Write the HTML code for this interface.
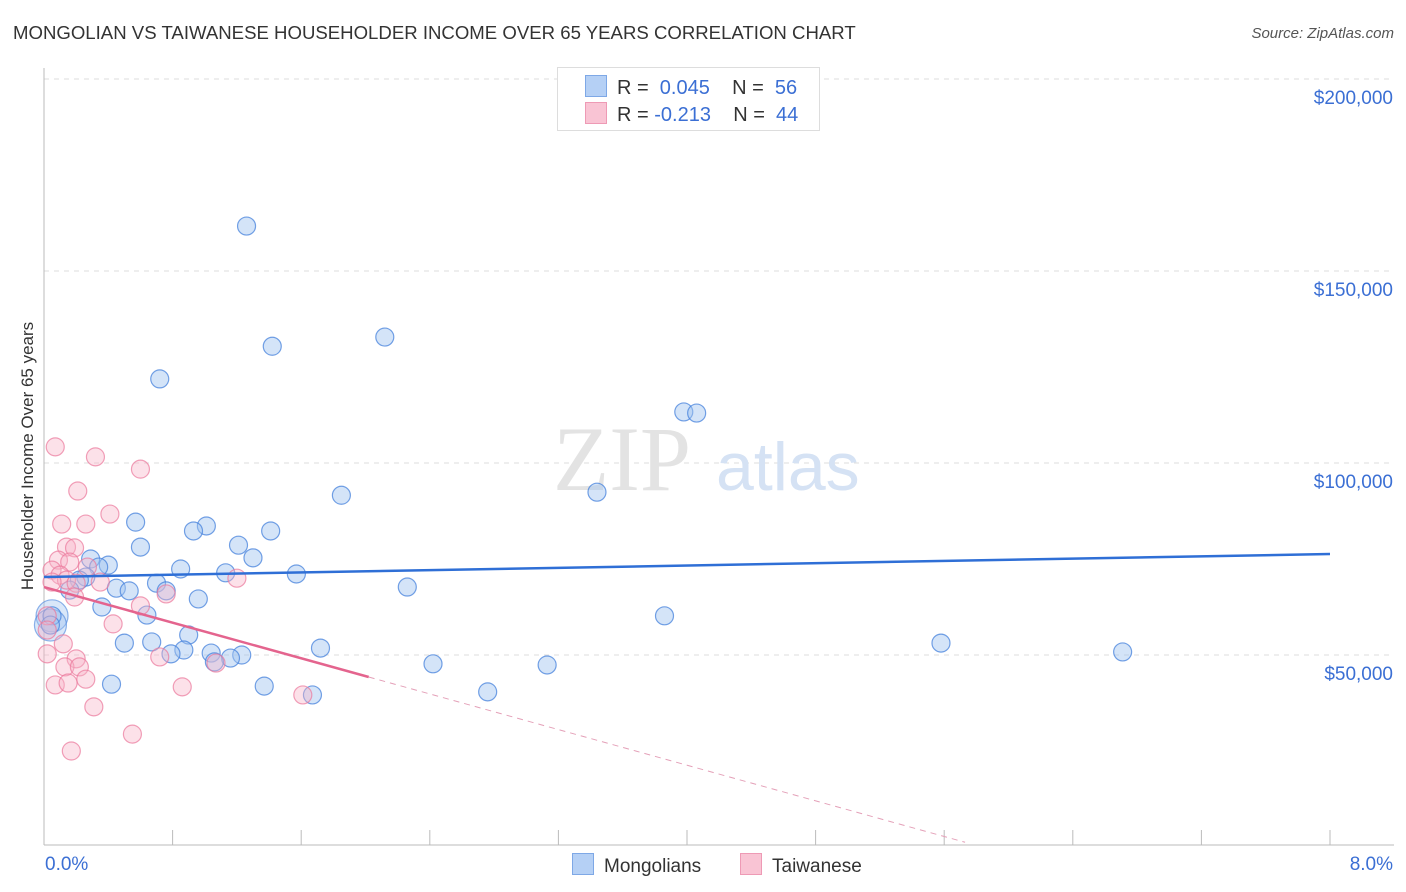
<!DOCTYPE html>
<html><head><meta charset="utf-8"><style>
body{margin:0;background:#fff;font-family:"Liberation Sans",sans-serif;}
#wrap{position:relative;width:1406px;height:892px;overflow:hidden;}
.t{position:absolute;white-space:nowrap;}
</style></head><body>
<div id="wrap">
<div class="t" style="left:13px;top:22px;font-size:18.6px;color:#333;">MONGOLIAN VS TAIWANESE HOUSEHOLDER INCOME OVER 65 YEARS CORRELATION CHART</div>
<div class="t" style="right:12px;top:25px;font-size:15px;color:#555;font-style:italic;">Source: ZipAtlas.com</div>
<div class="t" style="left:28px;top:456px;font-size:17px;color:#333;transform:translate(-50%,-50%) rotate(-90deg);">Householder Income Over 65 years</div>
<svg id="svg" width="1406" height="892" style="position:absolute;left:0;top:0"></svg>
</div>
<script>
const blueX=[1.26,1.42,2.12,0.72,3.98,4.06,1.85,3.44,0.57,1.01,0.93,1.41,0.60,1.21,1.30,0.29,0.40,0.34,0.85,1.13,1.57,0.26,0.22,0.70,0.45,0.53,0.76,2.26,0.16,0.96,0.36,0.64,3.86,0.05,0.04,0.90,0.50,0.67,5.58,1.72,0.87,0.79,1.04,1.23,1.16,1.06,6.71,2.42,3.13,0.42,1.37,2.76,1.67];
const blueY=[161.7,130.4,132.8,121.9,113.3,113.0,91.6,92.4,84.6,83.6,82.3,82.3,78.1,78.6,75.3,75.0,73.4,72.9,72.4,71.4,71.1,70.3,69.5,68.7,67.4,66.7,66.7,67.7,66.9,64.6,62.5,60.4,60.2,60.2,57.8,55.2,53.1,53.4,53.1,51.8,51.3,50.3,50.5,50.0,49.2,48.2,50.8,47.7,47.4,42.4,41.9,40.4,39.6];
const pinkX=[0.07,0.32,0.60,0.21,0.41,0.11,0.26,0.14,0.19,0.09,0.16,0.27,0.05,0.10,0.14,0.05,0.20,0.35,1.20,0.19,0.76,0.60,0.02,0.02,0.43,0.12,0.02,0.72,0.20,0.13,0.22,1.07,0.26,0.07,0.15,0.86,1.61,0.31,0.55,0.17];
const pinkY=[104.2,101.6,98.4,92.7,86.7,84.1,84.1,78.1,77.9,74.7,74.2,72.9,72.1,70.8,69.5,69.0,68.7,69.0,70.0,65.1,65.9,62.8,60.2,56.5,58.1,52.9,50.3,49.5,49.0,46.9,46.9,47.9,43.7,42.2,42.7,41.7,39.6,36.5,29.4,25.0];
const yTicks=[50,100,150,200];
const yTickLabels=["$50,000","$100,000","$150,000","$200,000"];
const blueTrend=[70.3,76.3];
const pinkTrend=[67.7,-11.6];
const bigBlue=[0.05,0.04];
const sx=v=>44+v/8*1286, sy=v=>847-v/50*192;
const svg=document.getElementById('svg');const NS='http://www.w3.org/2000/svg';
function mk(tag,attrs,parent){const e=document.createElementNS(NS,tag);for(const k in attrs)e.setAttribute(k,attrs[k]);(parent||svg).appendChild(e);return e;}
yTicks.forEach((t,i)=>{
 const g=mk('line',{x1:44,x2:1394,y1:sy(t),y2:sy(t),stroke:'#ddd','stroke-dasharray':'5,5'});
 
 
 const tx=mk('text',{x:1393,y:sy(t)+25,'text-anchor':'end','font-size':19,fill:'#3b6fd4','font-family':'Liberation Sans, sans-serif'});tx.textContent=yTickLabels[i];
 
 
});
mk('line',{x1:44,x2:44,y1:68,y2:845,stroke:'#bbb'});
mk('line',{x1:44,x2:1394,y1:845,y2:845,stroke:'#bbb'});
for(let i=0;i<=10;i++){const x=sx(i*0.8);const tk=mk('line',{x1:x,x2:x,y1:830,y2:845,stroke:'#bbb'});
 
 }
[[0,'0.0%','start',45],[8,'8.0%','end',1393]].forEach(a=>{const t=mk('text',{x:a[3],y:870,'text-anchor':a[2],'font-size':19,fill:'#3b6fd4','font-family':'Liberation Sans, sans-serif'});t.textContent=a[1];
 
 });
const wm=mk('text',{x:553,y:490,'font-size':92,fill:'#e3e3e3','font-family':'Liberation Serif, serif'});wm.textContent='ZIP';


const wm2=mk('text',{x:716,y:490,'font-size':68,fill:'#d5e2f4','font-family':'Liberation Sans, sans-serif'});wm2.textContent='atlas';


bigBlue.forEach((v,i)=>{const c=mk('circle',{cx:sx(v),cy:sy(i?57.8:60.2),r:16,fill:'rgba(160,196,240,0.4)',stroke:'rgba(70,130,220,0.6)','stroke-width':1.2});
 
 });
blueX.forEach((x,i)=>{const c=mk('circle',{cx:sx(x),cy:sy(blueY[i]),r:9,fill:'rgba(160,196,240,0.45)',stroke:'rgba(70,130,220,0.75)','stroke-width':1.2});
 
 });
pinkX.forEach((x,i)=>{const c=mk('circle',{cx:sx(x),cy:sy(pinkY[i]),r:9,fill:'rgba(248,180,200,0.4)',stroke:'rgba(235,120,155,0.7)','stroke-width':1.2});
 
 });
const bl=mk('line',{x1:sx(0),y1:sy(blueTrend[0]),x2:sx(8),y2:sy(blueTrend[1]),stroke:'#2f6fd6','stroke-width':2.5});


const pf=x=>pinkTrend[0]+pinkTrend[1]*x;
const pl=mk('line',{x1:sx(0),y1:sy(pf(0)),x2:sx(2.02),y2:sy(pf(2.02)),stroke:'#e4648e','stroke-width':2.5});


const pd=mk('line',{x1:sx(2.02),y1:sy(pf(2.02)),x2:sx(5.73),y2:sy(pf(5.73)),stroke:'#e4a0b8','stroke-width':1,'stroke-dasharray':'6,5'});


</script>
<div class="t" style="left:557px;top:67px;width:261px;height:62px;border:1px solid #ddd;background:#fff;font-size:20px;color:#333;">
 <div style="position:absolute;left:27px;top:7px;"><span style="display:inline-block;width:20px;height:20px;background:#b5d0f5;border:1px solid #7ea8e6;vertical-align:-3px;margin-right:10px"></span>R = <span style="color:#3b6fd4">&nbsp;0.045</span>&nbsp;&nbsp;&nbsp; N = <span style="color:#3b6fd4">&nbsp;56</span></div>
 <div style="position:absolute;left:27px;top:34px;"><span style="display:inline-block;width:20px;height:20px;background:#f9c4d4;border:1px solid #ee9ab5;vertical-align:-3px;margin-right:10px"></span>R = <span style="color:#3b6fd4">-0.213</span>&nbsp;&nbsp;&nbsp; N = <span style="color:#3b6fd4">&nbsp;44</span></div>
</div>
<div class="t" style="left:572px;top:853px;font-size:19px;color:#333;"><span style="display:inline-block;width:20px;height:20px;background:#b5d0f5;border:1px solid #7ea8e6;vertical-align:-3px;margin-right:10px"></span>Mongolians</div>
<div class="t" style="left:740px;top:853px;font-size:19px;color:#333;"><span style="display:inline-block;width:20px;height:20px;background:#f9c4d4;border:1px solid #ee9ab5;vertical-align:-3px;margin-right:10px"></span>Taiwanese</div>
</body></html>
